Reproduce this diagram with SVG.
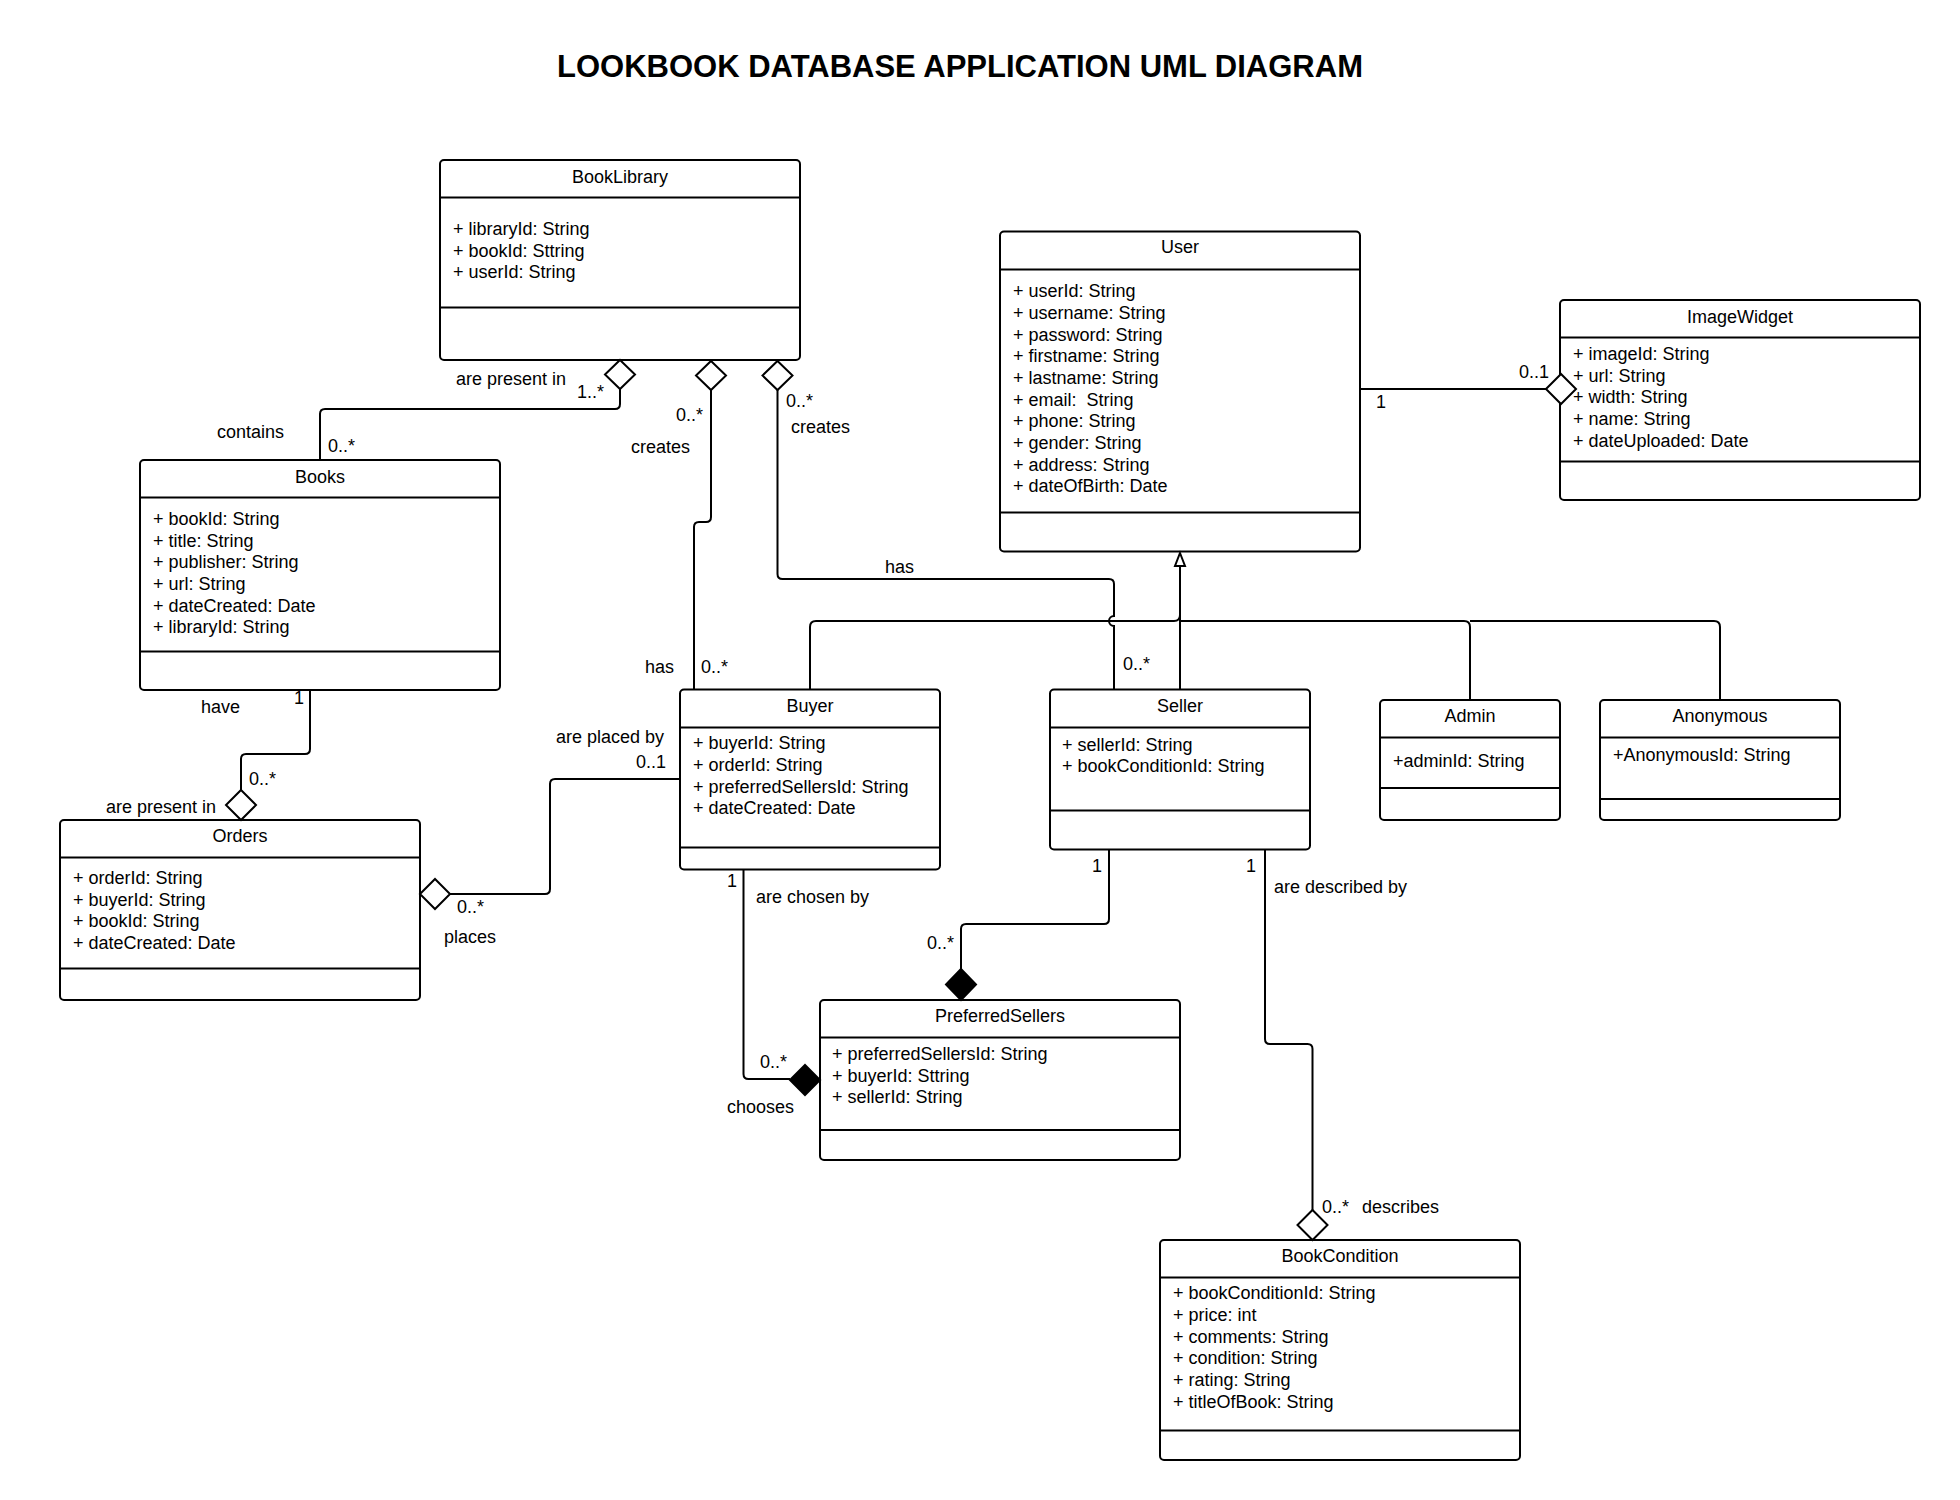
<svg xmlns="http://www.w3.org/2000/svg" width="1960" height="1500" viewBox="0 0 1960 1500">
<style>
text{font-family:"Liberation Sans",Arial,sans-serif;font-size:18px;fill:#000}
.t{text-anchor:middle}
.title{font-size:31px;font-weight:bold;text-anchor:middle}
.box{fill:#fff;stroke:#000;stroke-width:2}
.div{stroke:#000;stroke-width:2}
.c{fill:none;stroke:#000;stroke-width:2}
.od{fill:#fff;stroke:#000;stroke-width:2}
.fd{fill:#000;stroke:#000;stroke-width:2}
</style>
<rect width="1960" height="1500" fill="#fff"/>
<text class="title" x="960" y="77">LOOKBOOK DATABASE APPLICATION UML DIAGRAM</text>

<g id="BookLibrary">
<rect class="box" x="440" y="160" width="360" height="200" rx="4"/>
<line class="div" x1="440" y1="197.5" x2="800" y2="197.5"/>
<line class="div" x1="440" y1="307.5" x2="800" y2="307.5"/>
<text class="t" x="620" y="183">BookLibrary</text>
<text x="453" y="235">+ libraryId: String</text>
<text x="453" y="256.7">+ bookId: Sttring</text>
<text x="453" y="278.3">+ userId: String</text>
</g>

<g id="Books">
<rect class="box" x="140" y="460" width="360" height="230" rx="4"/>
<line class="div" x1="140" y1="497.5" x2="500" y2="497.5"/>
<line class="div" x1="140" y1="651.5" x2="500" y2="651.5"/>
<text class="t" x="320" y="482.7">Books</text>
<text x="153" y="525">+ bookId: String</text>
<text x="153" y="546.7">+ title: String</text>
<text x="153" y="568.3">+ publisher: String</text>
<text x="153" y="590">+ url: String</text>
<text x="153" y="611.7">+ dateCreated: Date</text>
<text x="153" y="633.3">+ libraryId: String</text>
</g>

<g id="Orders">
<rect class="box" x="60" y="820" width="360" height="180" rx="4"/>
<line class="div" x1="60" y1="857.5" x2="420" y2="857.5"/>
<line class="div" x1="60" y1="968.5" x2="420" y2="968.5"/>
<text class="t" x="240" y="842">Orders</text>
<text x="73" y="884">+ orderId: String</text>
<text x="73" y="905.7">+ buyerId: String</text>
<text x="73" y="927.3">+ bookId: String</text>
<text x="73" y="949">+ dateCreated: Date</text>
</g>

<g id="User">
<rect class="box" x="1000" y="231.5" width="360" height="320" rx="4"/>
<line class="div" x1="1000" y1="269.5" x2="1360" y2="269.5"/>
<line class="div" x1="1000" y1="512.5" x2="1360" y2="512.5"/>
<text class="t" x="1180" y="253.3">User</text>
<text x="1013" y="297.3">+ userId: String</text>
<text x="1013" y="319">+ username: String</text>
<text x="1013" y="340.7">+ password: String</text>
<text x="1013" y="362.3">+ firstname: String</text>
<text x="1013" y="384">+ lastname: String</text>
<text x="1013" y="405.7" xml:space="preserve">+ email:  String</text>
<text x="1013" y="427.3">+ phone: String</text>
<text x="1013" y="449">+ gender: String</text>
<text x="1013" y="470.7">+ address: String</text>
<text x="1013" y="492.3">+ dateOfBirth: Date</text>
</g>

<g id="ImageWidget">
<rect class="box" x="1560" y="300" width="360" height="200" rx="4"/>
<line class="div" x1="1560" y1="337.5" x2="1920" y2="337.5"/>
<line class="div" x1="1560" y1="461.5" x2="1920" y2="461.5"/>
<text class="t" x="1740" y="322.7">ImageWidget</text>
<text x="1573" y="360">+ imageId: String</text>
<text x="1573" y="381.7">+ url: String</text>
<text x="1573" y="403.3">+ width: String</text>
<text x="1573" y="425">+ name: String</text>
<text x="1573" y="446.7">+ dateUploaded: Date</text>
</g>

<g id="Buyer">
<rect class="box" x="680" y="689.5" width="260" height="180" rx="4"/>
<line class="div" x1="680" y1="727.5" x2="940" y2="727.5"/>
<line class="div" x1="680" y1="847.5" x2="940" y2="847.5"/>
<text class="t" x="810" y="711.7">Buyer</text>
<text x="693" y="749.3">+ buyerId: String</text>
<text x="693" y="771">+ orderId: String</text>
<text x="693" y="792.7">+ preferredSellersId: String</text>
<text x="693" y="814.3">+ dateCreated: Date</text>
</g>

<g id="Seller">
<rect class="box" x="1050" y="689.5" width="260" height="160" rx="4"/>
<line class="div" x1="1050" y1="727.5" x2="1310" y2="727.5"/>
<line class="div" x1="1050" y1="810.5" x2="1310" y2="810.5"/>
<text class="t" x="1180" y="711.7">Seller</text>
<text x="1062" y="750.7">+ sellerId: String</text>
<text x="1062" y="772.3">+ bookConditionId: String</text>
</g>

<g id="Admin">
<rect class="box" x="1380" y="700" width="180" height="120" rx="4"/>
<line class="div" x1="1380" y1="737.5" x2="1560" y2="737.5"/>
<line class="div" x1="1380" y1="788" x2="1560" y2="788"/>
<text class="t" x="1470" y="722.3">Admin</text>
<text x="1393" y="766.7">+adminId: String</text>
</g>

<g id="Anonymous">
<rect class="box" x="1600" y="700" width="240" height="120" rx="4"/>
<line class="div" x1="1600" y1="737.5" x2="1840" y2="737.5"/>
<line class="div" x1="1600" y1="799" x2="1840" y2="799"/>
<text class="t" x="1720" y="722.3">Anonymous</text>
<text x="1613" y="760.7">+AnonymousId: String</text>
</g>

<g id="PreferredSellers">
<rect class="box" x="820" y="1000" width="360" height="160" rx="4"/>
<line class="div" x1="820" y1="1037.5" x2="1180" y2="1037.5"/>
<line class="div" x1="820" y1="1130" x2="1180" y2="1130"/>
<text class="t" x="1000" y="1021.7">PreferredSellers</text>
<text x="832" y="1060">+ preferredSellersId: String</text>
<text x="832" y="1081.7">+ buyerId: Sttring</text>
<text x="832" y="1103.3">+ sellerId: String</text>
</g>

<g id="BookCondition">
<rect class="box" x="1160" y="1240" width="360" height="220" rx="4"/>
<line class="div" x1="1160" y1="1277.5" x2="1520" y2="1277.5"/>
<line class="div" x1="1160" y1="1430.5" x2="1520" y2="1430.5"/>
<text class="t" x="1340" y="1261.7">BookCondition</text>
<text x="1173" y="1299.3">+ bookConditionId: String</text>
<text x="1173" y="1321">+ price: int</text>
<text x="1173" y="1342.7">+ comments: String</text>
<text x="1173" y="1364.3">+ condition: String</text>
<text x="1173" y="1386">+ rating: String</text>
<text x="1173" y="1407.7">+ titleOfBook: String</text>
</g>

<g id="connectors">
<!-- BookLibrary - Books -->
<path class="c" d="M620 389 V404 Q620 409 615 409 H325 Q320 409 320 414 V460"/>
<path class="od" d="M620 360 L635 374.5 L620 389 L605 374.5 Z"/>
<text x="456" y="385">are present in</text>
<text x="577" y="398">1..*</text>
<text x="217" y="438">contains</text>
<text x="328" y="452">0..*</text>

<!-- BookLibrary - Buyer -->
<path class="c" d="M711 390 V517 Q711 522 706 522 H699 Q694 522 694 527 V690"/>
<path class="od" d="M711 361 L726 375.5 L711 390 L696 375.5 Z"/>
<text x="676" y="421">0..*</text>
<text x="631" y="453">creates</text>
<text x="645" y="673">has</text>
<text x="701" y="673">0..*</text>

<!-- BookLibrary - Seller -->
<path class="c" d="M777.5 390 V574 Q777.5 579 782.5 579 H1109 Q1114 579 1114 584 V616 A5 5 0 0 0 1114 626 V690"/>
<path class="od" d="M777.5 361 L792.5 375.5 L777.5 390 L762.5 375.5 Z"/>
<text x="786" y="407">0..*</text>
<text x="791" y="433">creates</text>
<text x="885" y="573">has</text>
<text x="1123" y="670">0..*</text>

<!-- User - ImageWidget -->
<path class="c" d="M1360 389 H1546"/>
<path class="od" d="M1546 389 L1561 374 L1576 389 L1561 404 Z"/>
<text x="1376" y="408">1</text>
<text x="1519" y="378">0..1</text>

<!-- Books - Orders -->
<path class="c" d="M310 690 V749 Q310 754 305 754 H246 Q241 754 241 759 V790"/>
<path class="od" d="M241 790 L256 805 L241 820 L226 805 Z"/>
<text x="294" y="704">1</text>
<text x="201" y="713">have</text>
<text x="249" y="785">0..*</text>
<text x="106" y="813">are present in</text>

<!-- Orders - Buyer -->
<path class="c" d="M450 894 H545 Q550 894 550 889 V784 Q550 779 555 779 H680"/>
<path class="od" d="M420 894 L435 879 L450 894 L435 909 Z"/>
<text x="457" y="913">0..*</text>
<text x="444" y="943">places</text>
<text x="556" y="743">are placed by</text>
<text x="636" y="768">0..1</text>

<!-- Buyer - PreferredSellers -->
<path class="c" d="M743.5 869.5 V1074 Q743.5 1079 748.5 1079 H790"/>
<path class="fd" d="M790 1080 L805 1065 L820 1080 L805 1095 Z"/>
<text x="727" y="887">1</text>
<text x="756" y="903">are chosen by</text>
<text x="760" y="1068">0..*</text>
<text x="727" y="1113">chooses</text>

<!-- Seller - PreferredSellers -->
<path class="c" d="M1109 849.5 V919 Q1109 924 1104 924 H966 Q961 924 961 929 V969"/>
<path class="fd" d="M961 969 L976 984.5 L961 1000 L946 984.5 Z"/>
<text x="1092" y="872">1</text>
<text x="927" y="949">0..*</text>

<!-- Seller - BookCondition -->
<path class="c" d="M1265 849.5 V1039 Q1265 1044 1270 1044 H1307.5 Q1312.5 1044 1312.5 1049 V1210"/>
<path class="od" d="M1312.5 1210 L1327.5 1225 L1312.5 1240 L1297.5 1225 Z"/>
<text x="1246" y="872">1</text>
<text x="1274" y="893">are described by</text>
<text x="1322" y="1213">0..*</text>
<text x="1362" y="1213">describes</text>

<!-- Generalization -->
<path class="c" d="M1180 566 V690"/>
<path class="c" d="M1180 566 V615 Q1180 621 1174 621 H816 Q810 621 810 627 V690"/>
<path class="c" d="M1180 621 H1464 Q1470 621 1470 627 V700"/>
<path class="c" d="M1470 621 H1714 Q1720 621 1720 627 V700"/>
<path class="od" d="M1180 553 L1185 566 L1175 566 Z"/>
</g>
</svg>
